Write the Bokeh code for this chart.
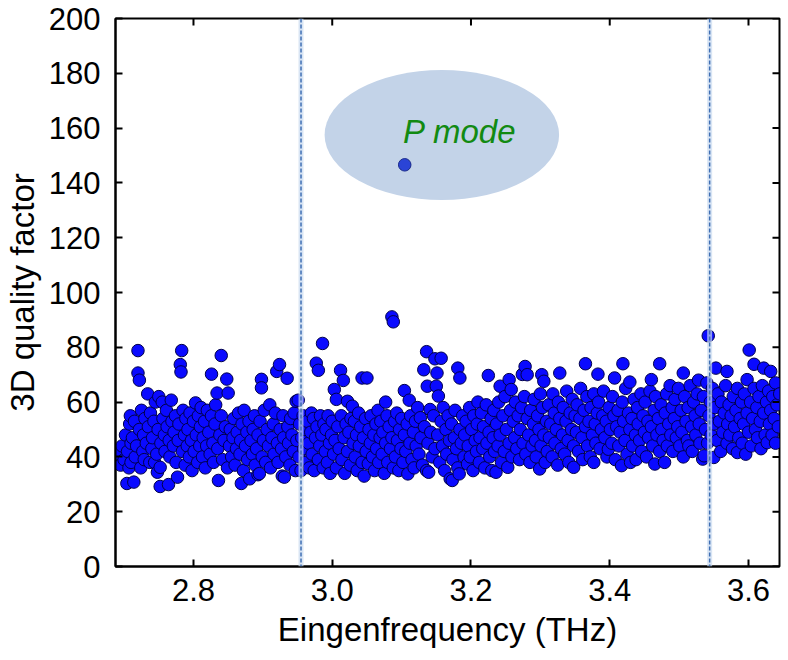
from bokeh.plotting import figure
from bokeh.models import FixedTicker, NumeralTickFormatter, Span, ColumnDataSource, Range1d
from bokeh.core.properties import value
from bokeh.embed import file_html
from bokeh.resources import INLINE

# ---- data (eigenfrequency in THz, 3D quality factor) ----
band_a = [
    (2.692,41),(2.695,37),(2.697,44),(2.700,39),(2.702,48),(2.704,30.3),(2.705,42),(2.707,36),(2.708,52),(2.710,45),(2.710,38),(2.709,55),
    (2.714,30.8),(2.712,47),(2.715,53),(2.716,40),(2.718,44),(2.720,78.8),(2.720,70.6),(2.722,68),(2.722,50),(2.724,36),(2.725,57),(2.727,42),(2.728,48),(2.729,39),(2.730,54),
    (2.734,63),(2.732,45),(2.735,51),(2.737,38),(2.738,56),(2.740,43),(2.741,47),(2.743,53),(2.744,38),(2.745,60),(2.748,34.4),(2.747,41),(2.749,50),
    (2.750,62),(2.752,36.2),(2.752,29.2),(2.753,45),(2.755,60),(2.756,54),(2.758,48),(2.759,42),(2.761,57),(2.762,51),(2.764,29.9),(2.765,46),(2.766,40),(2.768,60.7),(2.769,53),
    (2.771,44),(2.772,49),(2.774,55),(2.775,38),(2.777,32.6),(2.778,46),(2.779,52),(2.781,73.7),(2.782,71),(2.783,78.8),(2.784,42),(2.785,57),(2.787,48),(2.788,37),(2.789,54),
    (2.791,44),(2.792,50),(2.794,40),(2.795,56),(2.797,46),(2.798,35),(2.800,53),(2.801,42),(2.803,59.7),(2.804,48),(2.806,38),(2.807,55),(2.809,44),(2.810,51),
]
band_b = [
    (2.811,58),(2.813,40),(2.814,47),(2.816,53),(2.817,36),(2.819,44),(2.820,57),(2.822,49),(2.824,41),(2.826,70.2),(2.826,55),(2.828,45),(2.829,38),
    (2.831,52),(2.832,59),(2.834,63.3),(2.835,43),(2.836,31.4),(2.838,48),(2.840,77),(2.840,55),(2.842,39),(2.844,46),(2.846,51),(2.848,68.4),(2.850,63.3),(2.849,36),
    (2.852,44),(2.853,50),(2.855,40),(2.857,47),(2.858,54),(2.860,37),(2.862,43),(2.863,49),(2.865,56),(2.867,41),(2.869,30.3),(2.868,46),(2.870,52),
    (2.872,35),(2.873,57),(2.875,44),(2.877,49),(2.878,39),(2.880,53),(2.881,32),(2.883,46),(2.885,41),(2.886,50),(2.888,55),(2.889,37),
    (2.891,43),(2.893,33.5),(2.893,48),(2.895,33.9),(2.896,53),(2.898,68.3),(2.898,65.2),(2.899,40),(2.901,46),(2.902,57),(2.904,38),(2.906,50),(2.908,44),(2.910,59),
    (2.911,36),(2.913,47),(2.915,52),(2.916,41),(2.918,56),(2.920,71.2),(2.921,45),(2.922,38),(2.924,73.7),(2.925,50),(2.927,43),(2.928,33),(2.929,55),(2.930,47),
    (2.931,32.6),(2.933,40),(2.935,68.7),(2.936,51),(2.937,45),(2.939,37),(2.940,54),(2.942,48),(2.944,42),(2.945,56),(2.947,35),(2.948,60.3),(2.949,46),
]
band_c = [
    (2.951,60.7),(2.952,40),(2.953,52),(2.955,35),(2.956,47),(2.958,55),(2.959,43),(2.961,50),(2.962,38),(2.964,53),(2.966,45),(2.967,36),(2.969,49),(2.970,56),
    (2.971,41),(2.973,54),(2.974,35),(2.976,47),(2.977,74.2),(2.978,51),(2.980,71.6),(2.980,39),(2.982,44),(2.983,55),(2.985,48),(2.986,81.4),(2.987,36),(2.988,52),(2.990,42),
    (2.991,50),(2.993,38),(2.994,55),(2.996,45),(2.997,34),(2.999,48),(3.000,53),(3.002,41),(3.003,64.6),(3.004,46),(3.006,61),(3.006,36),(3.008,51),(3.010,43),
    (3.012,71.6),(3.013,55),(3.014,39),(3.016,67.9),(3.017,47),(3.018,34),(3.020,52),(3.022,60.3),(3.022,42),(3.024,49),(3.026,37),(3.027,54),(3.029,58.5),(3.030,45),
    (3.032,53),(3.033,40),(3.035,48),(3.036,35),(3.038,56),(3.039,44),(3.041,51),(3.043,68.8),(3.043,38),(3.045,47),(3.046,33),(3.048,54),(3.050,68.8),(3.049,42),
    (3.052,37.5),(3.053,50),(3.055,45),(3.056,55),(3.058,40),(3.060,48),(3.061,35),(3.063,52),(3.064,43),(3.066,57),(3.067,38),(3.069,47),(3.070,53),
    (3.072,41),(3.073,49),(3.075,34),(3.077,60),(3.077,45),(3.079,55),(3.080,38),(3.082,51),(3.084,43),(3.086,91.1),(3.088,89.3),(3.086,47),(3.088,36),(3.090,53),
]
band_d = [
    (3.091,40),(3.093,56),(3.094,46),(3.096,35),(3.097,50),(3.099,43),(3.100,54),(3.102,38),(3.104,64.2),(3.104,48),(3.106,42),(3.108,52),(3.109,33.8),(3.111,60.7),
    (3.112,45),(3.113,55),(3.115,39),(3.117,49),(3.118,36),(3.120,53),(3.121,44),(3.123,58),(3.125,41),(3.127,54.3),(3.128,47),(3.130,37),
    (3.132,71.8),(3.133,51),(3.136,78.4),(3.136,35),(3.137,65.8),(3.138,45),(3.139,34.4),(3.141,57.3),(3.142,49),(3.144,40),(3.146,55),(3.148,75.8),(3.148,43),(3.150,65.8),
    (3.151,70.6),(3.153,62.2),(3.152,48),(3.155,38),(3.157,76),(3.157,53),(3.159,44),(3.160,58),(3.162,35),(3.164,50),(3.165,41),(3.167,55),(3.169,46),(3.170,32),
    (3.173,31.4),(3.172,52),(3.174,39),(3.176,47),(3.177,57),(3.179,43),(3.181,72.4),(3.181,36),(3.183,33.8),(3.184,68.8),(3.184,50),(3.186,45),(3.188,55),(3.190,40),
    (3.191,48),(3.193,53),(3.195,37.4),(3.196,44),(3.198,58),(3.199,40),(3.201,50),(3.203,35),(3.204,55),(3.206,46),(3.208,42),(3.209,52),(3.210,60),
    (3.212,38),(3.213,47),(3.215,56),(3.217,43),(3.218,51),(3.220,36),(3.222,59),(3.223,45),(3.225,69.7),(3.226,49),(3.227,40),(3.229,54),(3.230,35),
    (3.232,47),(3.233,57),(3.234,42),(3.236,34.4),(3.237,52),(3.239,44),(3.240,60),(3.242,65.8),(3.242,48),(3.244,38),(3.246,55),(3.248,42),(3.249,62),
]
band_e = [
    (3.251,50),(3.253,36.2),(3.255,68.2),(3.255,45),(3.257,57),(3.258,64.6),(3.259,40),(3.261,53),(3.263,47),(3.264,60),(3.266,43),(3.268,55),(3.270,39),
    (3.271,50),(3.273,58),(3.274,70.1),(3.275,45),(3.277,62),(3.278,73),(3.279,41),(3.281,70),(3.281,54),(3.283,48),(3.285,38),(3.286,57),(3.288,44),(3.290,52),
    (3.291,61),(3.293,46),(3.294,40),(3.296,55),(3.298,50),(3.299,35.6),(3.300,63),(3.301,44),(3.302,70),(3.303,58),(3.305,67.6),(3.305,48),(3.307,38),(3.309,53),(3.310,42),
    (3.312,59),(3.313,47),(3.315,52),(3.317,40),(3.318,63),(3.320,56),(3.321,45),(3.323,50),(3.325,37),(3.326,60),(3.328,70.6),(3.328,54),(3.330,43),
    (3.332,48),(3.333,58),(3.335,41),(3.337,53),(3.338,64),(3.340,46),(3.341,38),(3.343,56),(3.345,50),(3.346,61),(3.348,36.2),(3.348,44),(3.350,55),
    (3.352,49),(3.353,59),(3.355,42),(3.357,54),(3.358,65),(3.360,47),(3.361,39),(3.363,57),(3.365,74),(3.365,51),(3.367,62),(3.368,44),(3.370,53),
    (3.372,40),(3.373,58),(3.375,48),(3.377,38),(3.377,63),(3.379,52),(3.380,45),(3.382,56),(3.383,70.2),(3.384,60),(3.386,43),(3.388,50),(3.390,55),
    (3.391,64),(3.393,47),(3.395,53),(3.396,40),(3.398,42.8),(3.399,58),(3.401,50),(3.403,45),(3.404,62),(3.406,55),(3.407,68.8),(3.408,39),(3.410,51),
    (3.412,57),(3.413,44),(3.415,49),(3.417,36.8),(3.418,60),(3.419,74),(3.420,53),(3.422,46),(3.423,65),(3.425,41),(3.427,56),(3.429,67.3),(3.429,50),(3.430,38),
    (3.432,54),(3.433,44),(3.435,61),(3.437,48),(3.438,39),(3.440,58),(3.441,52),(3.443,46),(3.445,63),(3.446,42),(3.448,55),(3.450,49),
]
band_f = [
    (3.451,60),(3.453,40),(3.455,53),(3.456,47),(3.458,64),(3.460,68.2),(3.460,51),(3.462,44),(3.464,57),(3.465,37.4),(3.466,62),(3.468,48),(3.470,54),
    (3.472,74),(3.472,42),(3.474,59),(3.475,50),(3.477,46),(3.479,38),(3.480,56),(3.482,63),(3.483,44),(3.485,52),(3.487,66),(3.488,48),(3.490,58),
    (3.491,42),(3.493,54),(3.494,61),(3.496,47),(3.498,51),(3.499,65),(3.501,44),(3.503,57),(3.504,49),(3.506,70.6),(3.506,40),(3.508,62),(3.510,53),
    (3.512,46),(3.513,58),(3.514,44),(3.516,66),(3.518,51),(3.519,42),(3.521,60),(3.523,55),(3.524,48),(3.526,63),(3.528,68),(3.529,52),(3.530,45),
    (3.532,57),(3.534,39.2),(3.535,62),(3.536,40.4),(3.538,50),(3.540,67),(3.541,45),(3.542,84.2),(3.543,55),(3.545,60),(3.546,48),(3.548,65),(3.550,39.8),(3.550,52),
    (3.552,58),(3.553,72.4),(3.555,46),(3.556,63),(3.558,53),(3.560,42),(3.561,60),(3.563,49),(3.565,56),(3.567,66),(3.569,71.2),(3.569,45),(3.570,52),
    (3.572,59),(3.573,48),(3.575,55),(3.577,43),(3.578,62),(3.580,51),(3.582,57),(3.584,41.6),(3.584,65),(3.586,47),(3.588,54),(3.590,60),
    (3.591,45),(3.593,52),(3.594,63),(3.596,41),(3.598,68.2),(3.598,56),(3.600,49),(3.601,79),(3.603,60),(3.604,44),(3.606,54),(3.608,73.8),(3.608,65),(3.610,50),
    (3.612,58),(3.613,47),(3.615,62),(3.617,53),(3.618,43),(3.620,66),(3.622,72.4),(3.622,56),(3.624,48),(3.626,60),(3.627,45.2),(3.629,64),(3.630,52),
    (3.632,71.2),(3.632,57),(3.634,48),(3.635,62),(3.637,54),(3.639,67),(3.639,45),(3.641,59),(3.643,51),(3.645,63),
]
p_mode_freq = [3.1045]
p_mode_q = [146.6]

band_edges = [2.955, 3.544]          # dashed band-edge markers (THz)
x_ticks = [2.8, 3.0, 3.2, 3.4, 3.6]
y_ticks = [0, 20, 40, 60, 80, 100, 120, 140, 160, 180, 200]
x_lo, x_hi = 2.6876, 3.6447
y_lo, y_hi = 0, 200

# ---- build ----
all_pts = band_a + band_b + band_c + band_d + band_e + band_f
src = ColumnDataSource(dict(f=[pt[0] for pt in all_pts], q=[pt[1] for pt in all_pts]))

FONT = "Liberation Sans"
FW, FH = 664, 548
TICK = 7
p = figure(frame_width=FW, frame_height=FH, output_backend="svg", toolbar_location=None,
           x_range=Range1d(x_lo, x_hi), y_range=Range1d(y_lo, y_hi),
           min_border_left=114, min_border_right=2, min_border_top=18, min_border_bottom=40,
           x_axis_label="Eingenfrequency (THz)", y_axis_label="3D quality factor")
p.background_fill_color = "white"
p.border_fill_color = "white"
p.grid.visible = False
p.outline_line_color = "black"
p.outline_line_width = 2

# annotation ellipse
p.ellipse(x=[3.158], y=[157.5], width=0.338, height=47.4, fill_color="#c3d3e8", line_color=None)
p.text(x=[3.102], y=[158.8], text=["P mode"], text_font=value(FONT), text_font_style="italic",
       text_font_size="33px", text_color="#128a12", text_baseline="alphabetic", text_align="left")

p.scatter(x="f", y="q", source=src, size=12.5, fill_color="#0a0aff", line_color="#00004a", line_width=1)
p.scatter(x=p_mode_freq, y=p_mode_q, size=12.5, fill_color="#2a44d6", line_color="#1a2a8a", line_width=1)

for loc in band_edges:
    p.add_layout(Span(location=loc, dimension="height", line_color="#c9daef", line_width=5, line_alpha=0.7, level="overlay"))
    p.add_layout(Span(location=loc, dimension="height", line_color="#3f6fb3", line_width=1.5, line_dash="4 2", level="overlay"))

# inward ticks on the top and right frame edges (mirroring the bottom/left axes)
dy_tick = (y_hi - y_lo) / FH * TICK
dx_tick = (x_hi - x_lo) / FW * TICK
p.segment(x0=x_ticks, y0=[y_hi] * len(x_ticks), x1=x_ticks, y1=[y_hi - dy_tick] * len(x_ticks),
          line_color="black", line_width=2)
p.segment(x0=[x_hi] * len(y_ticks), y0=y_ticks, x1=[x_hi - dx_tick] * len(y_ticks), y1=y_ticks,
          line_color="black", line_width=2)

xa = p.xaxis[0]
ya = p.yaxis[0]
xa.ticker = FixedTicker(ticks=x_ticks)
xa.formatter = NumeralTickFormatter(format="0.0")
ya.ticker = FixedTicker(ticks=y_ticks)
for ax in (xa, ya):
    ax.axis_line_color = "black"
    ax.axis_line_width = 2
    ax.major_tick_line_color = "black"
    ax.major_tick_line_width = 2
    ax.major_tick_in = TICK
    ax.major_tick_out = 0
    ax.minor_tick_line_color = None
    ax.major_label_text_font = FONT
    ax.major_label_text_font_size = "31px"
    ax.major_label_text_color = "black"
    ax.axis_label_text_font = FONT
    ax.axis_label_text_font_size = "33px"
    ax.axis_label_text_font_style = "normal"
    ax.axis_label_text_color = "black"
xa.major_label_standoff = 12
ya.major_label_standoff = 15
xa.axis_label_standoff = 7
ya.axis_label_standoff = 5

open("out.html", "w").write(file_html(p, INLINE))
